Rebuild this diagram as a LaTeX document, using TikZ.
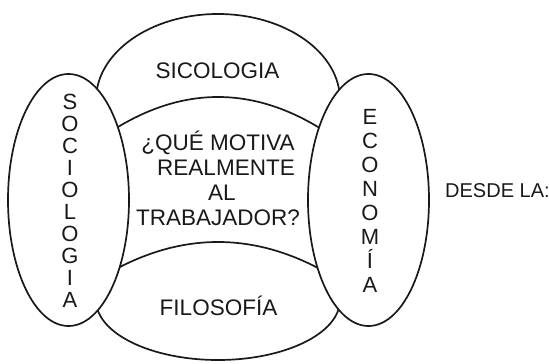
\documentclass[tikz,border=0pt]{standalone}
\usepackage{fontspec}
\setmainfont{Liberation Sans}
\begin{document}
\begin{tikzpicture}[x=1pt,y=1pt,
  outline/.style={line width=1.7pt,draw=black!90},
  sidefill/.style={outline,fill=white},
  lbl/.style={inner sep=0pt,text depth=0pt,align=center,text=black!90},
  bigfont/.style={font=\fontsize{22.5}{25.3}\selectfont},
  leftcol/.style={font=\fontsize{22}{22.05}\selectfont},
  rightcol/.style={font=\fontsize{22}{24.07}\selectfont},
  sidefont/.style={font=\fontsize{20}{22}\selectfont,text height=14.3pt}]
\useasboundingbox (0,0) rectangle (549,364);
% top (SICOLOGIA) and bottom (FILOSOFIA) regions
\draw[outline] (96,264) arc[start angle=180,end angle=0,x radius=122,y radius=86];
\draw[outline] (96,64) arc[start angle=180,end angle=360,x radius=122,y radius=60];
% inner boundaries of the central region
\draw[outline] (108,230.7) .. controls (181.3,279.1) and (254.7,279.1) .. (328,230.7);
\draw[outline] (110,91.7) .. controls (182,132.1) and (254,132.1) .. (326,91.7);
% side ellipses
\draw[sidefill] (68.5,164) ellipse[x radius=60.5,y radius=126];
\draw[sidefill] (368.5,164) ellipse[x radius=60.5,y radius=126];
% texts
\node[lbl,bigfont,text height=16.1pt] (sico) at (217.5,294) {SICOLOGIA};
\node[lbl,bigfont,text height=16.1pt] (filo) at (218.5,56.5) {FILOSOFÍA};
\node[lbl,bigfont,anchor=base] (preg) at (218,138) {¿QUÉ MOTIVA\\\hspace*{16pt}REALMENTE\\\hspace*{8pt}AL\\TRABAJADOR?};
\node[lbl,leftcol,anchor=base] (soc) at (70,56.1) {S\\O\\C\\I\\O\\L\\O\\G\\I\\A};
\node[lbl,rightcol,anchor=base] (eco) at (370,71.1) {E\\C\\O\\N\\O\\M\\Í\\A};
\node[lbl,sidefont,anchor=west] (desde) at (445,174) {DESDE LA:};
\end{tikzpicture}
\end{document}
